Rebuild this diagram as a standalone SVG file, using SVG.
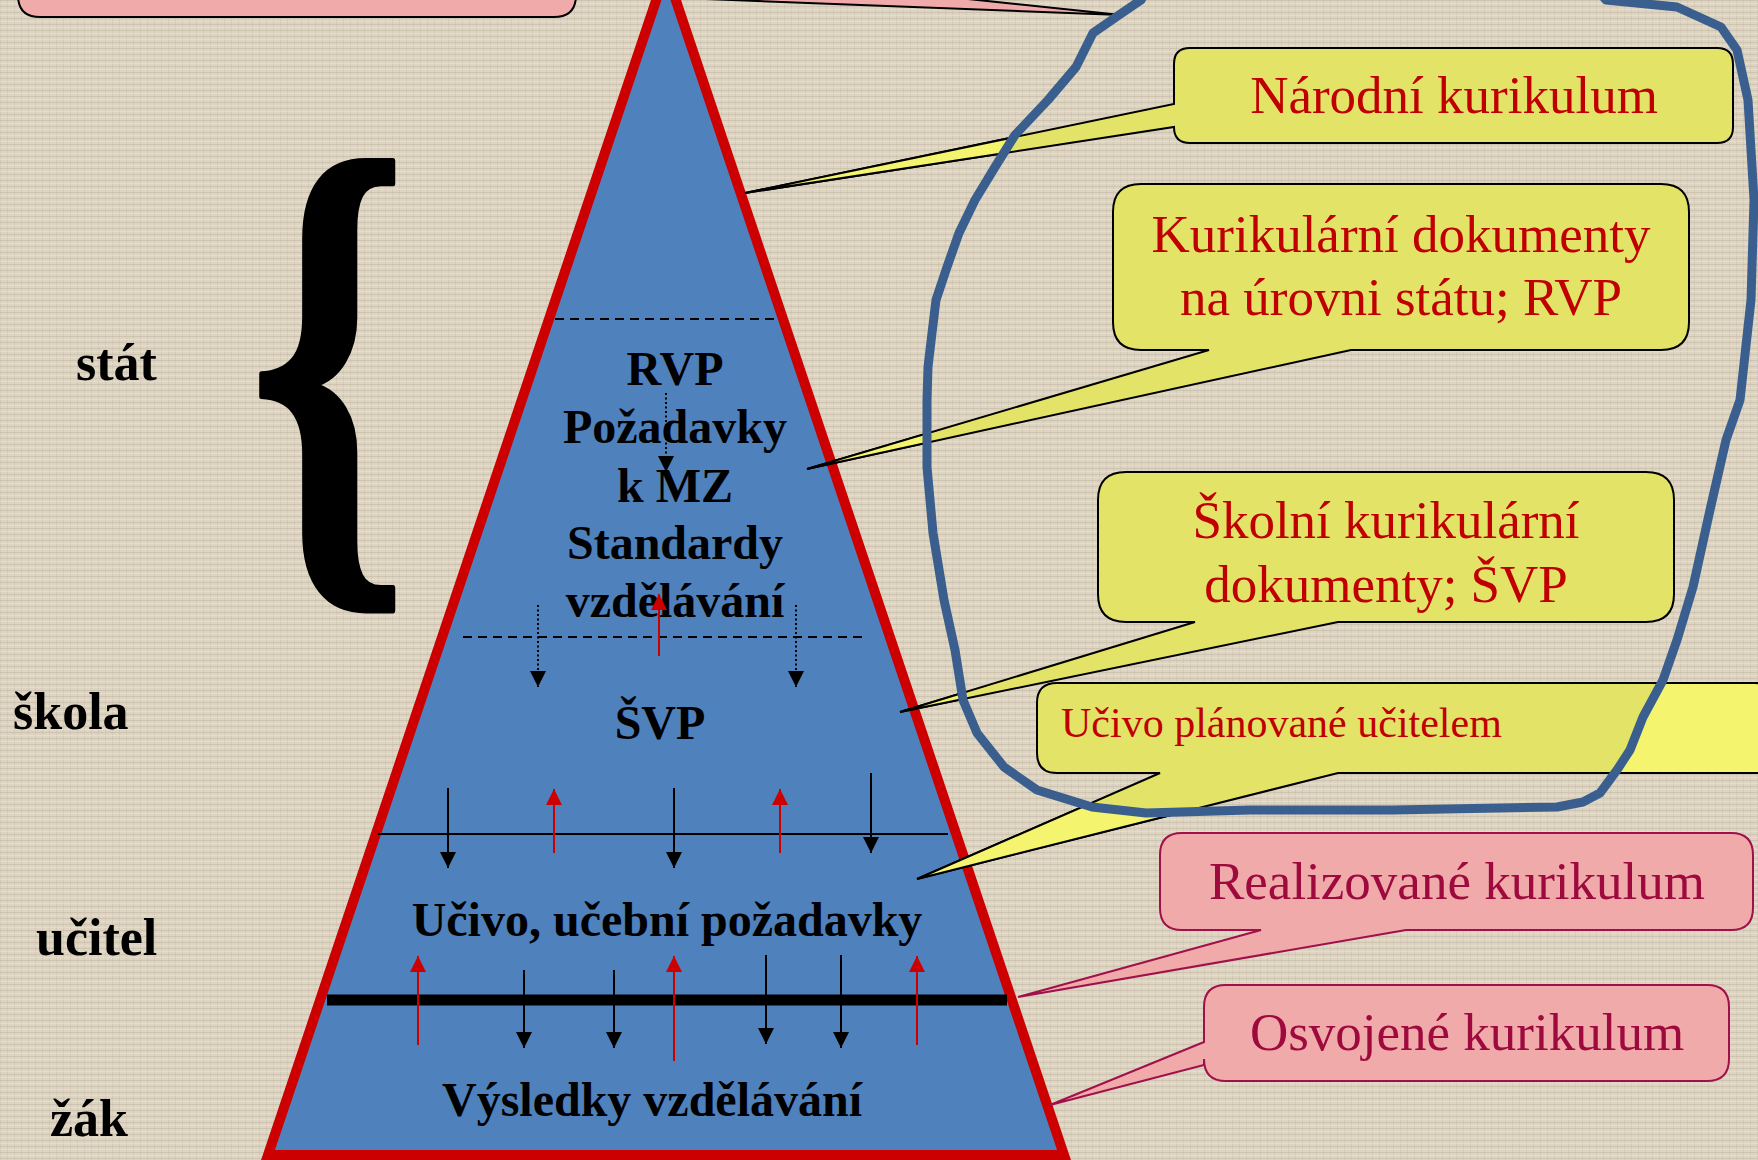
<svg xmlns="http://www.w3.org/2000/svg" xmlns:xlink="http://www.w3.org/1999/xlink" width="1758" height="1160" viewBox="0 0 1758 1160">
<style>
.lbl{font-family:"Liberation Serif","Times New Roman",serif;font-weight:bold;fill:#000;}
.pyr{font-family:"Liberation Serif","Times New Roman",serif;font-weight:bold;font-size:48px;fill:#000;text-anchor:middle;}
.ct{font-family:"Liberation Serif","Times New Roman",serif;font-size:53px;fill:#C00000;text-anchor:middle;}
.pt{font-family:"Liberation Serif","Times New Roman",serif;font-size:53px;fill:#9E0A3E;text-anchor:middle;}
.yd{fill:#E3E467;stroke:#000;stroke-width:2;}
.yb{fill:#F4F46E;stroke:#000;stroke-width:2;}
.pk{fill:#F0AAAA;stroke:#A0104A;stroke-width:2;}
.blk{stroke:#000;stroke-width:2;fill:none;}
.red{stroke:#CC0000;stroke-width:2;fill:none;}
.dot{stroke:#000;stroke-width:2;stroke-dasharray:2 2.5;fill:none;}
.dash{stroke:#000;stroke-width:2;stroke-dasharray:9 6;fill:none;}
</style>
<defs>
<pattern id="linen" width="7" height="6" patternUnits="userSpaceOnUse">
<rect width="7" height="6" fill="#DDD4C2"/>
<path d="M0,0.5H7" stroke="#C8BEAA" stroke-width="1" opacity="0.7"/>
<path d="M0.5,0V6" stroke="#CBC1AD" stroke-width="1" opacity="0.6"/>
<path d="M0,3.5H7" stroke="#EAE3D3" stroke-width="1" opacity="0.6"/>
</pattern>
<marker id="ab" viewBox="0 0 16 16" refX="16" refY="8" markerWidth="16" markerHeight="16" markerUnits="userSpaceOnUse" orient="auto">
<path d="M0,0 L16,8 L0,16 Z" fill="#000"/>
</marker>
<marker id="ar" viewBox="0 0 16 16" refX="16" refY="8" markerWidth="16" markerHeight="16" markerUnits="userSpaceOnUse" orient="auto">
<path d="M0,0 L16,8 L0,16 Z" fill="#CC0000"/>
</marker>
<path id="loopd" d="M1160,-30 L1141,0 L1119,15 L1093,33 L1076,67 L1048,100 L1015,135 L995,167 L975,200 L959,233 L947,267 L936,300 L932,333 L928,367 L927,400 L927,467 L933,533 L944,600 L955,650 L963,700 L977,733 L1004,767 L1037,790 L1092,807 L1146,813 L1250,810 L1392,810 L1557,807 L1583,802 L1600,793 L1617,770 L1630,750 L1643,717 L1663,680 L1677,640 L1693,587 L1710,510 L1726,440 L1740,400 L1751,300 L1754,200 L1748,100 L1737,50 L1721,27 L1677,7 L1606,0 L1580,-30 Z"/>
<clipPath id="outside">
<path clip-rule="evenodd" d="M-50,-50 H1810 V1210 H-50 Z M1160,-30 L1141,0 L1119,15 L1093,33 L1076,67 L1048,100 L1015,135 L995,167 L975,200 L959,233 L947,267 L936,300 L932,333 L928,367 L927,400 L927,467 L933,533 L944,600 L955,650 L963,700 L977,733 L1004,767 L1037,790 L1092,807 L1146,813 L1250,810 L1392,810 L1557,807 L1583,802 L1600,793 L1617,770 L1630,750 L1643,717 L1663,680 L1677,640 L1693,587 L1710,510 L1726,440 L1740,400 L1751,300 L1754,200 L1748,100 L1737,50 L1721,27 L1677,7 L1606,0 L1580,-30 Z"/>
</clipPath>
<path id="c1" d="M1190,48 H1717 Q1733,48 1733,64 V127 Q1733,143 1717,143 H1190 Q1174,143 1174,127 L745,193 L1174,104 V64 Q1174,48 1190,48 Z"/>
<path id="c2" d="M1141,184 H1661 Q1689,184 1689,212 V322 Q1689,350 1661,350 H1351 L807,469 L1209,350 H1141 Q1113,350 1113,322 V212 Q1113,184 1141,184 Z"/>
<path id="c3" d="M1126,472 H1646 Q1674,472 1674,500 V594 Q1674,622 1646,622 H1338 L900,712 L1195,622 H1126 Q1098,622 1098,594 V500 Q1098,472 1126,472 Z"/>
<path id="c4" d="M1057,683 H1755 Q1775,683 1775,703 V753 Q1775,773 1755,773 H1338 L917,879 L1160,773 H1057 Q1037,773 1037,753 V703 Q1037,683 1057,683 Z"/>
</defs>

<rect x="0" y="0" width="1758" height="1160" fill="url(#linen)"/>

<g id="pyramid">
<polygon points="666,-29 268,1155 1064,1155" fill="#4F81BD" stroke="#CC0000" stroke-width="10" stroke-linejoin="miter"/>
<line class="dash" x1="555" y1="319" x2="774" y2="319"/>
<line class="dash" x1="463" y1="637" x2="863" y2="637"/>
<line x1="378" y1="834" x2="948" y2="834" stroke="#000" stroke-width="2"/>
<line x1="327" y1="1000" x2="1007" y2="1000" stroke="#000" stroke-width="11"/>
</g>

<g id="level-rvp">
<text class="pyr" x="675" y="385">RVP</text>
<text class="pyr" x="675" y="443">Požadavky</text>
<text class="pyr" x="675" y="502">k MZ</text>
<text class="pyr" x="675" y="559">Standardy</text>
<text class="pyr" x="675" y="617">vzdělávání</text>
</g>
<g id="level-svp"><text class="pyr" x="660" y="739">ŠVP</text></g>
<g id="level-ucivo"><text class="pyr" x="667" y="936">Učivo, učební požadavky</text></g>
<g id="level-vysledky"><text class="pyr" x="652" y="1116">Výsledky vzdělávání</text></g>

<g id="connectors">
<line class="dot" x1="666" y1="393" x2="666" y2="472" marker-end="url(#ab)"/>
<line class="dot" x1="538" y1="605" x2="538" y2="687" marker-end="url(#ab)"/>
<line class="dot" x1="796" y1="605" x2="796" y2="687" marker-end="url(#ab)"/>
<line class="red" x1="659" y1="656" x2="659" y2="594" marker-end="url(#ar)"/>
<line class="blk" x1="448" y1="788" x2="448" y2="868" marker-end="url(#ab)"/>
<line class="blk" x1="674" y1="788" x2="674" y2="868" marker-end="url(#ab)"/>
<line class="blk" x1="871" y1="773" x2="871" y2="853" marker-end="url(#ab)"/>
<line class="red" x1="554" y1="853" x2="554" y2="789" marker-end="url(#ar)"/>
<line class="red" x1="780" y1="853" x2="780" y2="789" marker-end="url(#ar)"/>
<line class="blk" x1="524" y1="970" x2="524" y2="1048" marker-end="url(#ab)"/>
<line class="blk" x1="614" y1="970" x2="614" y2="1048" marker-end="url(#ab)"/>
<line class="blk" x1="766" y1="955" x2="766" y2="1044" marker-end="url(#ab)"/>
<line class="blk" x1="841" y1="955" x2="841" y2="1048" marker-end="url(#ab)"/>
<line class="red" x1="418" y1="1045" x2="418" y2="956" marker-end="url(#ar)"/>
<line class="red" x1="674" y1="1061" x2="674" y2="956" marker-end="url(#ar)"/>
<line class="red" x1="917" y1="1045" x2="917" y2="956" marker-end="url(#ar)"/>
</g>

<g id="labels">
<text class="lbl" x="76" y="380" font-size="52">stát</text>
<text class="lbl" x="13" y="729" font-size="52">škola</text>
<text class="lbl" x="36" y="955" font-size="52">učitel</text>
<text class="lbl" x="50" y="1136" font-size="52">žák</text>
<text class="lbl" transform="translate(248,538) scale(0.79,1.05)" x="0" y="0" font-size="518" stroke="#000" stroke-width="5" stroke-linejoin="round">{</text>
</g>

<g id="callout-top">
<path class="pk" style="stroke:#000" d="M40,-90 H554 Q576,-90 576,-68 V-42 L1121,15 L576,-6 V-5 Q576,17 554,17 H40 Q18,17 18,-5 V-68 Q18,-90 40,-90 Z"/>
</g>

<g id="callout-narodni">
<use xlink:href="#c1" class="yd"/>
<use xlink:href="#c1" class="yb" clip-path="url(#outside)"/>
<text class="ct" x="1454" y="113">Národní kurikulum</text>
</g>
<g id="callout-kurikularni">
<use xlink:href="#c2" class="yd"/>
<use xlink:href="#c2" class="yb" clip-path="url(#outside)"/>
<text class="ct" x="1401" y="252">Kurikulární dokumenty</text>
<text class="ct" x="1401" y="315">na úrovni státu; RVP</text>
</g>
<g id="callout-skolni">
<use xlink:href="#c3" class="yd"/>
<use xlink:href="#c3" class="yb" clip-path="url(#outside)"/>
<text class="ct" x="1386" y="538">Školní kurikulární</text>
<text class="ct" x="1386" y="602">dokumenty; ŠVP</text>
</g>
<g id="callout-ucivo">
<use xlink:href="#c4" class="yd"/>
<use xlink:href="#c4" class="yb" clip-path="url(#outside)"/>
<text class="ct" x="1061" y="737" style="text-anchor:start;font-size:42px">Učivo plánované učitelem</text>
</g>
<g id="callout-realizovane">
<path class="pk" d="M1182,833 H1731 Q1753,833 1753,855 V908 Q1753,930 1731,930 H1406 L1018,997 L1261,930 H1182 Q1160,930 1160,908 V855 Q1160,833 1182,833 Z"/>
<text class="pt" x="1457" y="899">Realizované kurikulum</text>
</g>
<g id="callout-osvojene">
<path class="pk" d="M1226,985 H1707 Q1729,985 1729,1007 V1059 Q1729,1081 1707,1081 H1226 Q1204,1081 1204,1059 V1065 L1050,1105 L1204,1042 V1007 Q1204,985 1226,985 Z"/>
<text class="pt" x="1467" y="1050">Osvojené kurikulum</text>
</g>

<g id="loop">
<use xlink:href="#loopd" fill="none" stroke="#3A5F8E" stroke-width="9" stroke-linejoin="round"/>
</g>
</svg>
